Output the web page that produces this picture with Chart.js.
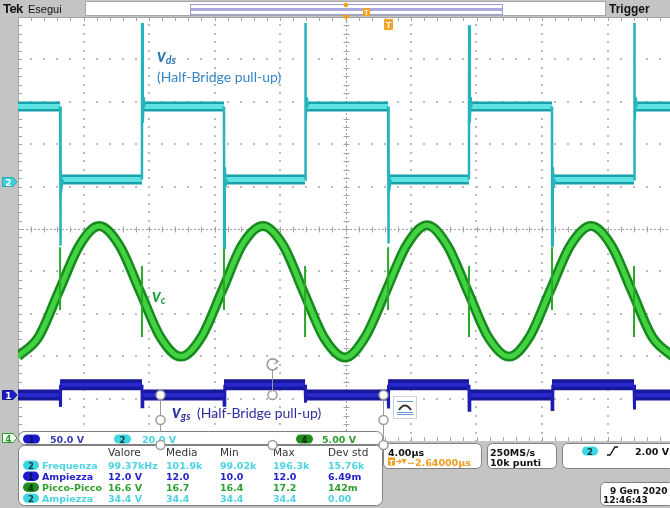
<!DOCTYPE html>
<html>
<head>
<meta charset="utf-8">
<title>Half-Bridge pull-up — Vds, Vc, Vgs</title>
<script src="https://cdn.jsdelivr.net/npm/chart.js@4.4.1/dist/chart.umd.min.js"></script>
<style>
  html, body { margin: 0; padding: 0; background: #c4c4c4; overflow: hidden; }
  #scope { position: relative; width: 670px; height: 508px; overflow: hidden; }
  #scope canvas { position: absolute; left: 0; top: 0; }
  #ui { position: absolute; left: 0; top: 0; pointer-events: none; }
</style>
</head>
<body>
<div id="scope">
  <canvas id="scopeCanvas" width="674" height="508"></canvas>
  <svg id="ui" width="670" height="508" viewBox="0 0 670 508" xmlns="http://www.w3.org/2000/svg">
    <!-- status bar -->
    <g font-family="'Liberation Sans', Arial, sans-serif">
      <text x="3" y="13" font-size="13" font-weight="bold" fill="#111" letter-spacing="-0.6">Tek</text>
      <text x="28" y="13" font-size="11" fill="#111">Esegui</text>
      <rect x="85.5" y="1.5" width="520" height="14" fill="#fff" stroke="#a8a8a8"/>
      <rect x="190.5" y="4.5" width="312" height="10" fill="none" stroke="#9d9dd6"/>
      <line x1="191" y1="9.5" x2="502" y2="9.5" stroke="#a9a9e2" stroke-width="3"/>
      <circle cx="346" cy="5" r="2.3" fill="#f4a21c"/>
      <path d="M342 15 L350 15 L346 20 Z" fill="#f4a21c"/>
      <rect x="363" y="8" width="7" height="8" fill="#f4a21c"/>
      <text x="366.5" y="15" font-size="7" text-anchor="middle" fill="#fff" font-weight="bold">T</text>
      <text x="609" y="13" font-size="12" font-weight="bold" fill="#111">Trigger</text>
      <!-- trigger position -->
      <rect x="384" y="19" width="9" height="11" rx="1" fill="#f2a32a"/>
      <text x="388.5" y="28" font-size="9" text-anchor="middle" fill="#fff" font-weight="bold">T</text>
    </g>

    <!-- channel ground markers -->
    <g font-family="'DejaVu Sans', sans-serif" font-weight="bold" font-size="9" text-anchor="middle">
      <path d="M2.5 177.5 H13 L17 182 L13 186.5 H2.5 Z" fill="#3fcfd9" stroke="#27a9b3"/>
      <text x="8.5" y="185.5" fill="#fff">2</text>
      <path d="M2.5 390.5 H13 L17 395 L13 399.5 H2.5 Z" fill="#1c1cc8" stroke="#12128e"/>
      <text x="8.5" y="398.5" fill="#fff">1</text>
      <path d="M2.5 433.5 H13 L17 438 L13 442.5 H2.5 Z" fill="#fff" stroke="#2a9a2a"/>
      <text x="8.5" y="441.5" fill="#2a9a2a">4</text>
    </g>

    <!-- trace annotations -->
    <g font-family="Lato, 'Open Sans', sans-serif">
      <text x="157" y="62" fill="#2b78b9"><tspan font-size="18" font-weight="bold" font-style="italic">v</tspan><tspan font-size="10.5" font-weight="bold" font-style="italic" dy="1.5">ds</tspan></text>
      <text x="157" y="82" font-size="14" fill="#3585c5">(Half-Bridge pull-up)</text>
      <text x="152" y="302" fill="#1f9f44"><tspan font-size="18" font-weight="bold" font-style="italic">v</tspan><tspan font-size="10.5" font-weight="bold" font-style="italic" dy="1.5">c</tspan></text>
      <text x="172" y="418" fill="#2f2f9e"><tspan font-size="18" font-weight="bold" font-style="italic">v</tspan><tspan font-size="10.5" font-weight="bold" font-style="italic" dy="1.5">gs</tspan></text>
      <text x="197" y="418" font-size="14" fill="#2f2f9e">(Half-Bridge pull-up)</text>
    </g>

    <!-- text-box handles -->
    <g stroke="#9b9b9b" stroke-width="1" fill="none">
      <line x1="160.5" y1="395" x2="160.5" y2="445"/>
      <line x1="383.5" y1="395" x2="383.5" y2="445"/>
      <line x1="272.5" y1="370" x2="272.5" y2="395"/>
      <path d="M277 361 A5.5 5.5 0 1 0 277.5 367" stroke-width="1.6"/>
      <path d="M274.5 359 L278 361.5 L274.5 364" stroke-width="1.4"/>
    </g>
    <g fill="#fff" stroke="#9b9b9b" stroke-width="1.5">
      <circle cx="160.5" cy="395" r="4.5"/>
      <circle cx="272.5" cy="395" r="4.5"/>
      <circle cx="383.5" cy="395" r="4.5"/>
      <circle cx="160.5" cy="420" r="4.5"/>
      <circle cx="383.5" cy="420" r="4.5"/>
    </g>
    <g>
      <rect x="393.5" y="396.5" width="23" height="22" fill="#fff" stroke="#cfcfcf"/>
      <line x1="397" y1="401.5" x2="413" y2="401.5" stroke="#6b9bd0"/>
      <line x1="397" y1="412.5" x2="413" y2="412.5" stroke="#6b9bd0"/>
      <line x1="397" y1="414.5" x2="413" y2="414.5" stroke="#6b9bd0"/>
      <path d="M399 410 Q405 401 411 410" stroke="#333" stroke-width="2" fill="none"/>
    </g>

    <!-- readout panels -->
    <g font-family="'DejaVu Sans', sans-serif" font-size="9.5" font-weight="bold">
      <rect x="18.5" y="431.5" width="364" height="13" rx="6" fill="#fff" stroke="#808080"/>
      <rect x="18.5" y="445.5" width="364" height="60" rx="6" fill="#fff" stroke="#808080"/>

      <rect x="23" y="434.5" width="17" height="9" rx="4.5" fill="#1b1bcc"/>
      <text x="31.5" y="442.5" font-size="8.5" text-anchor="middle" fill="#0b0b55">1</text>
      <text x="50" y="442.5" fill="#3a3ab8">50.0 V</text>
      <rect x="114" y="434.5" width="17" height="9" rx="4.5" fill="#3dd5e0"/>
      <text x="122.5" y="442.5" font-size="8.5" text-anchor="middle" fill="#103a44">2</text>
      <text x="142" y="442.5" fill="#48d4e4">20.0 V</text>
      <rect x="296" y="434.5" width="17" height="9" rx="4.5" fill="#1e8c1e"/>
      <text x="304.5" y="442.5" font-size="8.5" text-anchor="middle" fill="#0a300a">4</text>
      <text x="322" y="442.5" fill="#2e9a2e">5.00 V</text>

      <g font-weight="normal" font-size="10.5" fill="#333">
        <text x="108" y="456">Valore</text>
        <text x="166" y="456">Media</text>
        <text x="220" y="456">Min</text>
        <text x="273" y="456">Max</text>
        <text x="328" y="456">Dev std</text>
      </g>

      <g id="rows"></g>

      <rect x="383.5" y="443.5" width="98" height="25" rx="5" fill="#fff" stroke="#808080"/>
      <text x="388" y="455.5" fill="#111">4.00µs</text>
      <rect x="388" y="457.5" width="7" height="8" fill="#f29b1d"/>
      <text x="391.5" y="464.5" font-size="7" text-anchor="middle" fill="#fff">T</text>
      <path d="M396 461.5 H401 M399 459.5 L401 461.5 L399 463.5" stroke="#f29b1d" stroke-width="1.2" fill="none"/>
      <path d="M401.5 459 H406.5 L404 464 Z" fill="#f29b1d"/>
      <text x="407" y="465.5" fill="#f29b1d">−2.64000µs</text>

      <rect x="487.5" y="443.5" width="69" height="25" rx="5" fill="#fff" stroke="#808080"/>
      <text x="490" y="455.5" fill="#111">250MS/s</text>
      <text x="490" y="465.5" fill="#111">10k punti</text>

      <rect x="562.5" y="443.5" width="112" height="25" rx="5" fill="#fff" stroke="#808080"/>
      <rect x="582" y="446.5" width="16" height="9" rx="4.5" fill="#3dd5e0"/>
      <text x="590" y="454.5" font-size="8.5" text-anchor="middle" fill="#103a44">2</text>
      <path d="M607 455 H610 L615 447 H618" stroke="#111" stroke-width="1.4" fill="none"/>
      <text x="635" y="455" fill="#111">2.00 V</text>

      <rect x="600.5" y="482.5" width="74" height="23" rx="5" fill="#fff" stroke="#808080"/>
      <text x="610" y="494" font-size="9" fill="#111">9 Gen 2020</text>
      <text x="603" y="503" font-size="9" fill="#111">12:46:43</text>
    </g>
    <g fill="#fff" stroke="#9b9b9b" stroke-width="1.5">
      <circle cx="160.5" cy="445" r="4.5"/>
      <circle cx="272.5" cy="445" r="4.5"/>
      <circle cx="383.5" cy="445" r="4.5"/>
    </g>
  </svg>
</div>

<script>
// ---------- acquisition: 4 µs/div, 10 divisions ----------
const timeSpan = [0, 40];                 // µs across the screen

// Ch2 — drain-source voltage of the pull-up switch (V)
const vdsFallTimes = [2.57, 12.58, 22.60, 32.61];   // µs
const vdsRiseTimes = [7.57, 17.53, 27.54, 37.62];   // µs
const vdsLow = 1.2;
const vdsHigh = 35.6;
const vdsRisePeak = [75, 75, 74, 75];     // overshoot at turn-off
const vdsFallDip = [-30, -31, -29, -30];  // undershoot at turn-on
const vdsRingAfterRise = [28, 40];        // first swings back onto the high level
const vdsRingAfterFall = [7, -2];         // first swings back onto the low level

// Ch4 — resonant capacitor voltage (V)
const vcTimes = [0, 1.25, 2.5, 3.75, 4.95, 6.2, 7.45, 8.7,
                 9.95, 11.2, 12.45, 13.7, 14.96, 16.2, 17.45, 18.7,
                 19.97, 21.2, 22.47, 23.72, 24.98, 26.22, 27.47, 28.72,
                 29.98, 31.23, 32.48, 33.73, 34.99, 36.24, 37.49, 38.74, 40];
const vcVolts = [9.6, 11.9, 17.3, 22.7, 25.0, 22.7, 17.3, 11.9,
                 9.6, 11.9, 17.3, 22.8, 25.0, 22.7, 17.2, 11.8,
                 9.5, 11.9, 17.3, 22.7, 25.1, 22.7, 17.3, 11.9,
                 9.6, 11.9, 17.3, 22.7, 25.0, 22.7, 17.3, 11.9, 9.6];
const vcSpikeAtFall = [15.1, 22.5];       // [min, max] V while Vds falls
const vcSpikeAtRise = [11.9, 20.3];       // [min, max] V while Vds rises

// Ch1 — gate-source voltage (V)
const vgsLow = 0;
const vgsHigh = 12.0;
const vgsDipAtVdsFall = [-14, -12, -16, -17];
const vgsDipAtVdsRise = [-14, -9, -18, -17];

// Measurement table (Valore, Media, Min, Max, Dev std)
const measRows = [
  { ch: 2, name: 'Frequenza',   values: ['99.37kHz', '101.9k', '99.02k', '196.3k', '15.76k'] },
  { ch: 1, name: 'Ampiezza',    values: ['12.0 V', '12.0', '10.0', '12.0', '6.49m'] },
  { ch: 4, name: 'Picco-Picco', values: ['16.6 V', '16.7', '16.4', '17.2', '142m'] },
  { ch: 2, name: 'Ampiezza',    values: ['34.4 V', '34.4', '34.4', '34.4', '0.00'] }
];

// ---------- vertical setup per channel (divisions) ----------
const scopeChannels = {
  1: { voltsPerDiv: 50, position: -3.915 },
  2: { voltsPerDiv: 20, position: 1.108 },
  4: { voltsPerDiv: 5,  position: -4.93 }
};
const channelStyle = {
  1: { pill: '#1b1bcc', pillText: '#0b0b55', text: '#2323c8' },
  2: { pill: '#3dd5e0', pillText: '#103a44', text: '#4fd3e3' },
  4: { pill: '#1e8c1e', pillText: '#0a300a', text: '#2e9e2e' }
};

const toDiv = (ch, v) => v / scopeChannels[ch].voltsPerDiv + scopeChannels[ch].position;
const P = (ch, t, v) => ({ x: t, y: toDiv(ch, v) });
const GAP = t => ({ x: t, y: null });

function switchingEdges() {
  return [
    ...vdsFallTimes.map((t, i) => ({ t, i, kind: 'fall' })),
    ...vdsRiseTimes.map((t, i) => ({ t, i, kind: 'rise' }))
  ].sort((a, b) => a.t - b.t);
}

// flat parts of a two-level trace, broken at every switching instant
function levelTrace(ch, lowV, highV, startHigh, highAfter) {
  const pts = [];
  let t0 = timeSpan[0], high = startHigh;
  for (const e of switchingEdges()) {
    const v = high ? highV : lowV;
    pts.push(P(ch, t0, v), P(ch, e.t, v), GAP(e.t));
    t0 = e.t;
    high = highAfter(e.kind);
  }
  const v = high ? highV : lowV;
  pts.push(P(ch, t0, v), P(ch, timeSpan[1], v));
  return pts;
}

function vdsEdgeTrace() {
  const pts = [];
  for (const e of switchingEdges()) {
    const t = e.t;
    if (e.kind === 'fall') {
      pts.push(P(2, t, vdsHigh), P(2, t + 0.01, vdsFallDip[e.i]),
               P(2, t + 0.05, vdsRingAfterFall[0]), P(2, t + 0.1, vdsRingAfterFall[1]),
               P(2, t + 0.16, vdsLow), GAP(t + 0.16));
    } else {
      pts.push(P(2, t, vdsLow), P(2, t + 0.01, vdsRisePeak[e.i]),
               P(2, t + 0.05, vdsRingAfterRise[0]), P(2, t + 0.1, vdsRingAfterRise[1]),
               P(2, t + 0.16, vdsHigh), GAP(t + 0.16));
    }
  }
  return pts;
}

function vgsEdgeTrace() {
  const pts = [];
  for (const e of switchingEdges()) {
    const t = e.t;
    if (e.kind === 'fall') {
      pts.push(P(1, t, vgsLow), P(1, t + 0.01, vgsDipAtVdsFall[e.i]), P(1, t + 0.05, vgsHigh), GAP(t + 0.05));
    } else {
      pts.push(P(1, t, vgsHigh), P(1, t + 0.01, vgsDipAtVdsRise[e.i]), P(1, t + 0.05, vgsLow), GAP(t + 0.05));
    }
  }
  return pts;
}

function vcSpikeTrace() {
  const pts = [];
  for (const e of switchingEdges()) {
    const r = e.kind === 'fall' ? vcSpikeAtFall : vcSpikeAtRise;
    pts.push(P(4, e.t, r[0]), P(4, e.t, r[1]), GAP(e.t));
  }
  return pts;
}

const vcTrace = vcTimes.map((t, i) => P(4, t, vcVolts[i]));
const vdsLevels = levelTrace(2, vdsLow, vdsHigh, true, k => k === 'rise');
const vgsLevels = levelTrace(1, vgsLow, vgsHigh, false, k => k === 'fall');

// ---------- graticule ----------
const graticule = {
  id: 'graticule',
  beforeDraw(chart) {
    const { ctx, chartArea: a } = chart;
    ctx.save();
    ctx.fillStyle = '#c4c4c4';
    ctx.fillRect(0, 0, chart.width, chart.height);
    ctx.fillStyle = '#ffffff';
    ctx.fillRect(a.left, a.top, a.right - a.left, a.bottom - a.top);
    ctx.restore();
  },
  beforeDatasetsDraw(chart) {
    const { ctx, chartArea: a, scales } = chart;
    const sx = scales.x, sy = scales.y;
    const dw = sx.getPixelForValue(4) - sx.getPixelForValue(0);
    const dh = sy.getPixelForValue(0) - sy.getPixelForValue(1);
    ctx.save();
    // dotted division lines
    ctx.fillStyle = '#bcbcbc';
    for (let i = 1; i < 10; i++) {
      if (i === 5) continue;
      const px = Math.round(sx.getPixelForValue(i * 4));
      for (let k = 0; k <= 50; k++) ctx.fillRect(px - 1, Math.round(a.top + k * dh / 5) - 1, 2, 2);
      const py = Math.round(sy.getPixelForValue(5 - i));
      for (let k = 0; k <= 50; k++) ctx.fillRect(Math.round(a.left + k * dw / 5) - 1, py - 1, 2, 2);
    }
    // centre cross with minor ticks
    const cx = Math.round(sx.getPixelForValue(20)) + 0.5;
    const cy = Math.round(sy.getPixelForValue(0)) + 0.5;
    ctx.strokeStyle = '#a4a4a4';
    ctx.lineWidth = 1;
    ctx.setLineDash([2, 2]);
    ctx.beginPath();
    ctx.moveTo(a.left, cy); ctx.lineTo(a.right, cy);
    ctx.moveTo(cx, a.top); ctx.lineTo(cx, a.bottom);
    ctx.stroke();
    ctx.setLineDash([]);
    ctx.beginPath();
    for (let k = 0; k <= 50; k++) {
      const x = Math.round(a.left + k * dw / 5) + 0.5;
      ctx.moveTo(x, cy - 3); ctx.lineTo(x, cy + 3);
      ctx.moveTo(x, a.top); ctx.lineTo(x, a.top + 4);
      ctx.moveTo(x, a.bottom - 4); ctx.lineTo(x, a.bottom);
      const y = Math.round(a.top + k * dh / 5) + 0.5;
      ctx.moveTo(cx - 3, y); ctx.lineTo(cx + 3, y);
      ctx.moveTo(a.left, y); ctx.lineTo(a.left + 4, y);
    }
    ctx.moveTo(a.left + 0.5, a.top); ctx.lineTo(a.left + 0.5, a.bottom);
    ctx.moveTo(a.left, a.top + 0.5); ctx.lineTo(a.right, a.top + 0.5);
    ctx.stroke();
    ctx.restore();
  }
};

const line = (data, color, width, order, extra = {}) => Object.assign({
  data, borderColor: color, borderWidth: width, order,
  pointRadius: 0, fill: false, spanGaps: false, tension: 0
}, extra);

new Chart(document.getElementById('scopeCanvas'), {
  type: 'line',
  data: {
    datasets: [
      line(vgsLevels, '#17179c', 11, 9),
      line(vgsLevels, '#2828cc', 4, 8),
      line(vgsEdgeTrace(), '#1c1cb4', 3, 7),
      line(vcTrace, '#168a1c', 10, 6, { cubicInterpolationMode: 'monotone' }),
      line(vcTrace, '#42d242', 5, 5, { cubicInterpolationMode: 'monotone' }),
      line(vcSpikeTrace(), '#2aa82a', 2, 4),
      line(vdsLevels, '#17a2aa', 10, 3),
      line(vdsLevels, '#5fe2e2', 5, 2),
      line(vdsEdgeTrace(), '#26b4bc', 2.5, 1)
    ]
  },
  options: {
    responsive: false,
    animation: false,
    events: [],
    layout: { padding: { left: 18, top: 17, right: 1, bottom: 67 } },
    scales: {
      x: { type: 'linear', min: timeSpan[0], max: timeSpan[1], display: false },
      y: { type: 'linear', min: -5, max: 5, display: false }
    },
    plugins: { legend: { display: false }, tooltip: { enabled: false } }
  },
  plugins: [graticule]
});

// ---------- measurement rows ----------
const rowsGroup = document.getElementById('rows');
const SVGNS = 'http://www.w3.org/2000/svg';
const colX = [108, 166, 220, 273, 328];
measRows.forEach((row, r) => {
  const base = 468.5 + r * 11;
  const st = channelStyle[row.ch];
  const pill = document.createElementNS(SVGNS, 'rect');
  Object.entries({ x: 23, y: base - 8, width: 16, height: 9.5, rx: 4.75, fill: st.pill })
    .forEach(([k, v]) => pill.setAttribute(k, v));
  rowsGroup.appendChild(pill);
  const addText = (x, str, fill, extra = {}) => {
    const t = document.createElementNS(SVGNS, 'text');
    t.setAttribute('x', x); t.setAttribute('y', base); t.setAttribute('fill', fill);
    Object.entries(extra).forEach(([k, v]) => t.setAttribute(k, v));
    t.textContent = str;
    rowsGroup.appendChild(t);
  };
  addText(31, String(row.ch), st.pillText, { 'text-anchor': 'middle', 'font-size': 8.5 });
  addText(42, row.name, st.text);
  row.values.forEach((v, c) => addText(colX[c], v, st.text));
});
</script>
</body>
</html>
